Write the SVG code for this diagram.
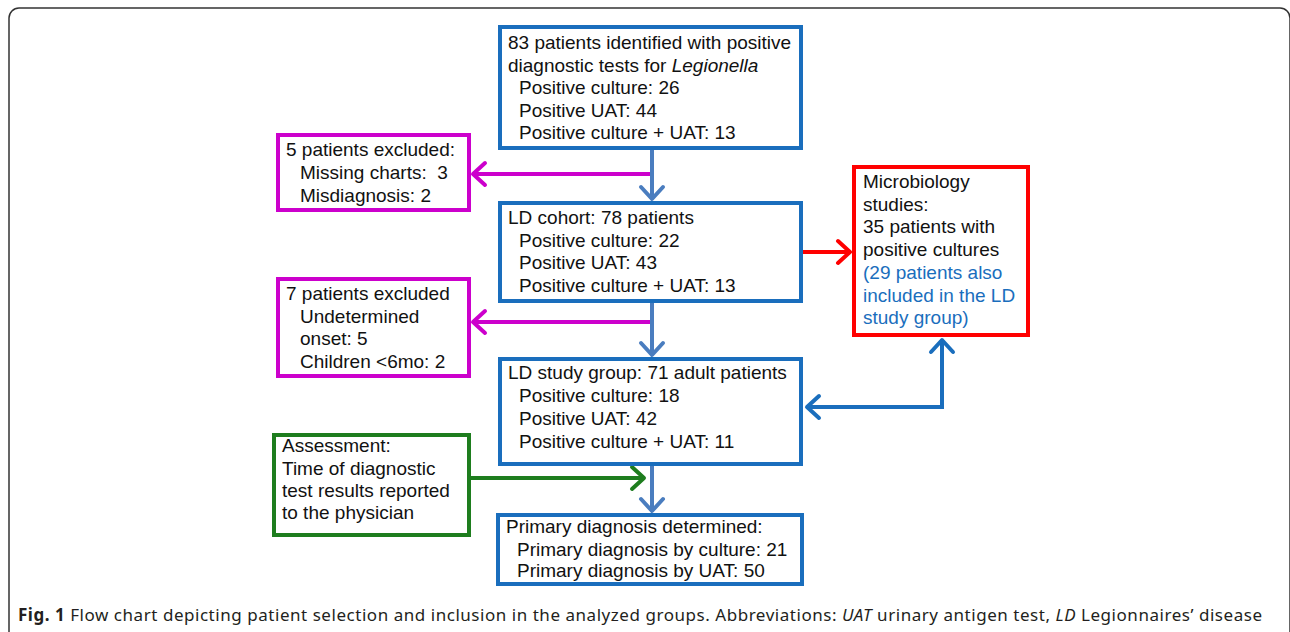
<svg xmlns="http://www.w3.org/2000/svg" width="1290" height="632" viewBox="0 0 1290 632">
<defs>
<style>
.t{font-family:"Liberation Sans",Arial,sans-serif;font-size:19px;fill:#111}
.tb{fill:#1a6ebd}
.nb{fill:#fff;stroke:#1a6ebd;stroke-width:4}
.nm{fill:#fff;stroke:#cc00cc;stroke-width:4}
.nr{fill:#fff;stroke:#f00;stroke-width:4}
.ng{fill:#fff;stroke:#1e7d1e;stroke-width:4}
.c{fill:none;stroke-width:4}
.cap{font-family:"Noto Sans","Open Sans",sans-serif;font-size:17px;fill:#231f20}
</style>
<marker id="aB" markerUnits="userSpaceOnUse" viewBox="-16 -14 20 28" refX="0" refY="0" markerWidth="20" markerHeight="28" orient="auto"><path d="M-12,-11 L0,0 L-12,11" fill="none" stroke="#4a7dbf" stroke-width="4" stroke-linecap="round" stroke-linejoin="round"/></marker>
<marker id="aD" markerUnits="userSpaceOnUse" viewBox="-16 -14 20 28" refX="0" refY="0" markerWidth="20" markerHeight="28" orient="auto-start-reverse"><path d="M-12,-11 L0,0 L-12,11" fill="none" stroke="#1a6ebd" stroke-width="4" stroke-linecap="round" stroke-linejoin="round"/></marker>
<marker id="aM" markerUnits="userSpaceOnUse" viewBox="-16 -14 20 28" refX="0" refY="0" markerWidth="20" markerHeight="28" orient="auto"><path d="M-12,-11 L0,0 L-12,11" fill="none" stroke="#cc00cc" stroke-width="4" stroke-linecap="round" stroke-linejoin="round"/></marker>
<marker id="aR" markerUnits="userSpaceOnUse" viewBox="-16 -14 20 28" refX="0" refY="0" markerWidth="20" markerHeight="28" orient="auto"><path d="M-12,-11 L0,0 L-12,11" fill="none" stroke="#f00" stroke-width="4" stroke-linecap="round" stroke-linejoin="round"/></marker>
<marker id="aG" markerUnits="userSpaceOnUse" viewBox="-16 -14 20 28" refX="0" refY="0" markerWidth="20" markerHeight="28" orient="auto"><path d="M-12,-11 L0,0 L-12,11" fill="none" stroke="#1e7d1e" stroke-width="4" stroke-linecap="round" stroke-linejoin="round"/></marker>
</defs>
<rect width="1290" height="632" fill="#fff"/>
<path d="M9,660 V18 A10,10 0 0 1 19,8 H1280 A10,10 0 0 1 1290,18 V660" fill="none" stroke="#333" stroke-width="1.5"/>

<g id="connectors">
<line class="c" x1="652" y1="174" x2="473" y2="174" stroke="#cc00cc" marker-end="url(#aM)"/>
<line class="c" x1="652" y1="322" x2="473" y2="322" stroke="#cc00cc" marker-end="url(#aM)"/>
<line class="c" x1="470" y1="478" x2="644" y2="478" stroke="#1e7d1e" marker-end="url(#aG)"/>
<line class="c" x1="652" y1="150" x2="652" y2="199" stroke="#4a7dbf" marker-end="url(#aB)"/>
<line class="c" x1="652" y1="303" x2="652" y2="355" stroke="#4a7dbf" marker-end="url(#aB)"/>
<line class="c" x1="652" y1="466" x2="652" y2="511" stroke="#4a7dbf" marker-end="url(#aB)"/>
<line class="c" x1="803" y1="252" x2="850" y2="252" stroke="#f00" marker-end="url(#aR)"/>
<path class="c" d="M807,407 H942 V340" stroke="#1a6ebd" marker-start="url(#aD)" marker-end="url(#aD)"/>
</g>

<g id="n-identified">
<rect class="nb" x="500" y="27" width="301" height="121"/>
<text class="t" x="508" y="49">83 patients identified with positive</text>
<text class="t" x="508" y="71.5">diagnostic tests for <tspan font-style="italic">Legionella</tspan></text>
<text class="t" x="519" y="94">Positive culture: 26</text>
<text class="t" x="519" y="116.5">Positive UAT: 44</text>
<text class="t" x="519" y="139">Positive culture + UAT: 13</text>
</g>

<g id="n-excluded5">
<rect class="nm" x="278" y="135" width="191" height="75"/>
<text class="t" x="286" y="156">5 patients excluded:</text>
<text class="t" x="300" y="179">Missing charts:&#160; 3</text>
<text class="t" x="300" y="202">Misdiagnosis: 2</text>
</g>

<g id="n-cohort">
<rect class="nb" x="500" y="203" width="301" height="98"/>
<text class="t" x="508" y="224">LD cohort: 78 patients</text>
<text class="t" x="519" y="247">Positive culture: 22</text>
<text class="t" x="519" y="269">Positive UAT: 43</text>
<text class="t" x="519" y="292">Positive culture + UAT: 13</text>
</g>

<g id="n-micro">
<rect class="nr" x="854" y="167" width="174" height="168"/>
<text class="t" x="863" y="188">Microbiology</text>
<text class="t" x="863" y="211">studies:</text>
<text class="t" x="863" y="233">35 patients with</text>
<text class="t" x="863" y="256">positive cultures</text>
<text class="t tb" x="863" y="279">(29 patients also</text>
<text class="t tb" x="863" y="302">included in the LD</text>
<text class="t tb" x="863" y="324">study group)</text>
</g>

<g id="n-excluded7">
<rect class="nm" x="278" y="279" width="191" height="97"/>
<text class="t" x="286" y="300">7 patients excluded</text>
<text class="t" x="300" y="323">Undetermined</text>
<text class="t" x="300" y="345">onset: 5</text>
<text class="t" x="300" y="368">Children &lt;6mo: 2</text>
</g>

<g id="n-study">
<rect class="nb" x="500" y="359" width="301" height="105"/>
<text class="t" x="508" y="379">LD study group: 71 adult patients</text>
<text class="t" x="519" y="402">Positive culture: 18</text>
<text class="t" x="519" y="425">Positive UAT: 42</text>
<text class="t" x="519" y="448">Positive culture + UAT: 11</text>
</g>

<g id="n-assessment">
<rect class="ng" x="274" y="435" width="195" height="100"/>
<text class="t" x="282" y="452">Assessment:</text>
<text class="t" x="282" y="475">Time of diagnostic</text>
<text class="t" x="282" y="497">test results reported</text>
<text class="t" x="282" y="519">to the physician</text>
</g>

<g id="n-primary">
<rect class="nb" x="498" y="515" width="304" height="69"/>
<text class="t" x="506" y="533">Primary diagnosis determined:</text>
<text class="t" x="517" y="556">Primary diagnosis by culture: 21</text>
<text class="t" x="517" y="577">Primary diagnosis by UAT: 50</text>
</g>

<text class="cap" x="18" y="621" textLength="1244" lengthAdjust="spacing"><tspan font-weight="bold">Fig. 1</tspan> Flow chart depicting patient selection and inclusion in the analyzed groups. Abbreviations: <tspan font-style="italic">UAT</tspan> urinary antigen test, <tspan font-style="italic">LD</tspan> Legionnaires’ disease</text>
</svg>
